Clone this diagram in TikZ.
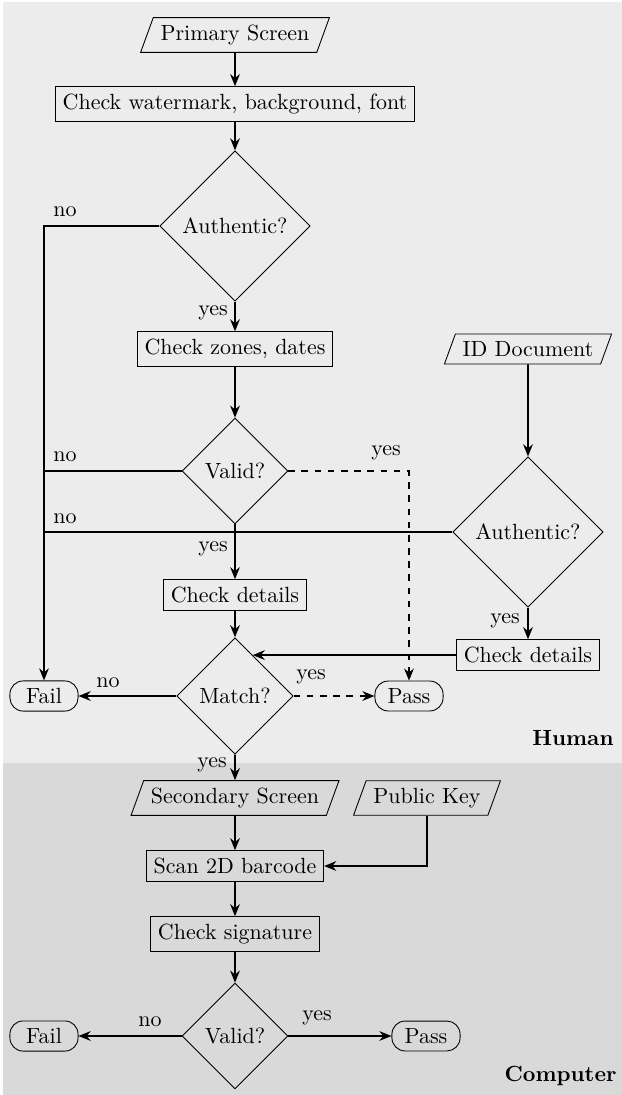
\documentclass[tikz,border=0pt]{standalone}
\usepackage{amsmath}
\usepackage{tikz}
\usetikzlibrary{shapes.geometric,arrows.meta}

\begin{document}
\begin{tikzpicture}[x=0.455pt,y=-0.455pt,
	proc/.style={shape=rectangle,draw=black},
	io/.style={shape=trapezium,trapezium left angle=70,trapezium right angle=110,draw=black},
	decision/.style={shape=diamond,draw=black},
	term/.style={shape=rectangle,draw=black,rounded corners=6pt,minimum width=31pt},
	flow/.style={thick,-{Stealth[length=5.5pt,width=4.4pt]}},
	lbl/.style={inner sep=0pt}]

	% lanes
	\useasboundingbox (0,0) rectangle (622,1095);
	\fill[black!7.5] (3,2) rectangle (622,763);
	\fill[black!15] (3,763) rectangle (622,1095);
	\node[lbl,anchor=east] (human) at (614,738) {\textbf{Human}};
	\node[lbl,anchor=east] (computer) at (617,1076) {\textbf{Computer}};

	\node[io] (prim) at (235, 35) {Primary Screen};
	\node[proc] (chkwm) at (235, 104) {Check watermark, background, font};
	\node[decision] (auth1) at (235, 226) {Authentic?};
	\node[proc] (chkzd) at (235, 349) {Check zones, dates};
	\node[io] (iddoc) at (528, 349) {ID Document};
	\node[decision] (valid1) at (235, 471) {Valid?};
	\node[decision] (auth2) at (528, 532) {Authentic?};
	\node[proc] (chkdet1) at (235, 595) {Check details};
	\node[proc] (chkdet2) at (528, 655) {Check details};
	\node[decision] (match) at (235, 696) {Match?};
	\node[term] (fail1) at (44, 696) {Fail};
	\node[term] (pass1) at (409, 696) {Pass};
	\node[io] (sec) at (235, 798) {Secondary Screen};
	\node[io] (pubkey) at (427, 798) {Public Key};
	\node[proc] (scan) at (235, 866) {Scan 2D barcode};
	\node[proc] (chksig) at (235, 934) {Check signature};
	\node[decision] (valid2) at (235, 1036) {Valid?};
	\node[term] (fail2) at (44, 1036) {Fail};
	\node[term] (pass2) at (426, 1036) {Pass};

	% answers
	\node[lbl] (no1) at (65, 212) {no};
	\node[lbl] (yes1) at (213, 313) {yes};
	\node[lbl] (no2) at (65, 457) {no};
	\node[lbl] (yes2) at (386, 453) {yes};
	\node[lbl] (no3) at (65, 519) {no};
	\node[lbl] (yes3) at (213, 549) {yes};
	\node[lbl] (yes4) at (505, 621) {yes};
	\node[lbl] (no4) at (108, 683) {no};
	\node[lbl] (yes5) at (311, 677) {yes};
	\node[lbl] (yes6) at (212, 765) {yes};
	\node[lbl] (no5) at (150, 1022) {no};
	\node[lbl] (yes7) at (317, 1018) {yes};

	\path[flow] (prim) edge (chkwm);
	\path[flow] (chkwm) edge (auth1);
	\path[flow] (auth1) edge (chkzd);
	\path[flow] (chkzd) edge (valid1);
	\path[flow] (valid1) edge (chkdet1);
	\path[flow] (chkdet1) edge (match);
	\path[flow] (match) edge (sec);
	\path[flow] (sec) edge (scan);
	\path[flow] (scan) edge (chksig);
	\path[flow] (chksig) edge (valid2);
	\path[flow] (iddoc) edge (auth2);
	\path[flow] (auth2) edge (chkdet2);
	\path[flow] (match) edge (fail1);
	\path[flow,dashed] (match) edge (pass1);
	\path[flow] (valid2) edge (fail2);
	\path[flow] (valid2) edge (pass2);

	\draw[flow] (auth1.west) -| (fail1.north);
	\draw[thick] (valid1.west) -- (valid1.west -| fail1.north);
	\draw[thick] (auth2.west) -- (auth2.west -| fail1.north);
	\draw[flow,dashed] (valid1.east) -| (pass1.north);
	\coordinate (jn) at (chkdet2.west -| match.west);
	\coordinate (mhit) at (intersection of match.north--match.east and chkdet2.west--jn);
	\draw[flow] (chkdet2.west) -- (mhit);
	\draw[flow] (pubkey.south) |- (scan.east);
\end{tikzpicture}
\end{document}
